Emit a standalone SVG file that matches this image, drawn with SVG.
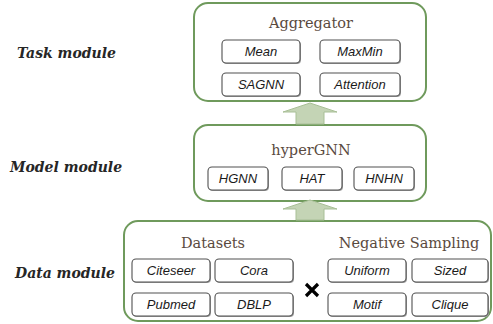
<svg xmlns="http://www.w3.org/2000/svg" width="493" height="324" viewBox="0 0 493 324">
  <style>
    .module { fill: #ffffff; stroke: #6f9a5c; stroke-width: 2; }
    .title { font-family: "DejaVu Serif", "Liberation Serif", serif; font-size: 14.5px; fill: #5a4a40; text-anchor: middle; }
    .side { font-family: "DejaVu Serif", "Liberation Serif", serif; font-size: 14px; font-weight: bold; font-style: italic; fill: #262626; }
    .item rect.box { fill: #ffffff; stroke: #505050; stroke-width: 1.1; }
    .item rect.shade { fill: #a0a0a0; }
    .item text { font-family: "Liberation Sans", Arial, sans-serif; font-size: 13px; font-style: italic; fill: #1a1a1a; text-anchor: middle; }
    .flow { fill: #c4d4b5; stroke: #a8bf96; stroke-width: 1; }
  </style>

  <!-- row labels -->
  <text class="side" x="17" y="58">Task module</text>
  <text class="side" x="10" y="172">Model module</text>
  <text class="side" x="15" y="278">Data module</text>

  <!-- task module -->
  <g id="task">
    <rect class="module" x="194" y="3" width="232" height="98" rx="14"/>
    <text class="title" x="311" y="28">Aggregator</text>
    <g class="item" id="mean"><rect class="shade" x="223" y="41" width="78" height="23" rx="4"/><rect class="box" x="222" y="40" width="78" height="23" rx="4"/><text x="261" y="56">Mean</text></g>
    <g class="item" id="maxmin"><rect class="shade" x="321" y="41" width="80" height="23" rx="4"/><rect class="box" x="320" y="40" width="80" height="23" rx="4"/><text x="360" y="56">MaxMin</text></g>
    <g class="item" id="sagnn"><rect class="shade" x="223" y="74" width="78" height="23" rx="4"/><rect class="box" x="222" y="73" width="78" height="23" rx="4"/><text x="261" y="89">SAGNN</text></g>
    <g class="item" id="attention"><rect class="shade" x="321" y="74" width="80" height="23" rx="4"/><rect class="box" x="320" y="73" width="80" height="23" rx="4"/><text x="360" y="89">Attention</text></g>
  </g>

  <!-- model module -->
  <g id="model">
    <rect class="module" x="194" y="125" width="232" height="76" rx="14"/>
    <text class="title" x="311" y="155">hyperGNN</text>
    <g class="item" id="hgnn"><rect class="shade" x="209" y="168" width="60" height="23" rx="4"/><rect class="box" x="208" y="167" width="60" height="23" rx="4"/><text x="238" y="183">HGNN</text></g>
    <g class="item" id="hat"><rect class="shade" x="283" y="168" width="60" height="23" rx="4"/><rect class="box" x="282" y="167" width="60" height="23" rx="4"/><text x="312" y="183">HAT</text></g>
    <g class="item" id="hnhn"><rect class="shade" x="355" y="168" width="60" height="23" rx="4"/><rect class="box" x="354" y="167" width="60" height="23" rx="4"/><text x="384" y="183">HNHN</text></g>
  </g>

  <!-- data module -->
  <g id="data">
    <rect class="module" x="124" y="221" width="367" height="100" rx="14"/>
    <text class="title" x="213" y="248">Datasets</text>
    <text class="title" x="409" y="248">Negative Sampling</text>
    <g class="item" id="citeseer"><rect class="shade" x="133" y="260" width="78" height="23" rx="4"/><rect class="box" x="132" y="259" width="78" height="23" rx="4"/><text x="171" y="275">Citeseer</text></g>
    <g class="item" id="cora"><rect class="shade" x="216" y="260" width="78" height="23" rx="4"/><rect class="box" x="215" y="259" width="78" height="23" rx="4"/><text x="254" y="275">Cora</text></g>
    <g class="item" id="pubmed"><rect class="shade" x="133" y="294" width="78" height="23" rx="4"/><rect class="box" x="132" y="293" width="78" height="23" rx="4"/><text x="171" y="309">Pubmed</text></g>
    <g class="item" id="dblp"><rect class="shade" x="216" y="294" width="78" height="23" rx="4"/><rect class="box" x="215" y="293" width="78" height="23" rx="4"/><text x="254" y="309">DBLP</text></g>
    <g class="item" id="uniform"><rect class="shade" x="329" y="260" width="78" height="23" rx="4"/><rect class="box" x="328" y="259" width="78" height="23" rx="4"/><text x="367" y="275">Uniform</text></g>
    <g class="item" id="sized"><rect class="shade" x="413" y="260" width="76" height="23" rx="4"/><rect class="box" x="412" y="259" width="76" height="23" rx="4"/><text x="450" y="275">Sized</text></g>
    <g class="item" id="motif"><rect class="shade" x="329" y="294" width="78" height="23" rx="4"/><rect class="box" x="328" y="293" width="78" height="23" rx="4"/><text x="367" y="309">Motif</text></g>
    <g class="item" id="clique"><rect class="shade" x="413" y="294" width="76" height="23" rx="4"/><rect class="box" x="412" y="293" width="76" height="23" rx="4"/><text x="450" y="309">Clique</text></g>
    <!-- cross product sign -->
    <path d="M306 284 L318 296 M318 284 L306 296" stroke="#000000" stroke-width="3.2" stroke-linecap="butt"/>
  </g>

  <!-- upward block arrows between modules -->
  <g id="connectors">
    <path class="flow" d="M296 124 L296 112 L283 112 L310 103 L337 112 L324 112 L324 124 Z"/>
    <path class="flow" d="M296 220 L296 209 L283 209 L310 200 L337 209 L324 209 L324 220 Z"/>
  </g>
</svg>
